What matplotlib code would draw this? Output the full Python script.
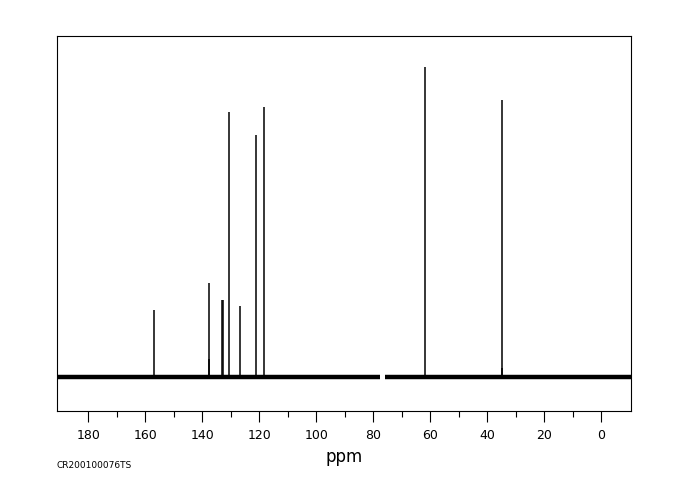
import matplotlib
matplotlib.use("Agg")
import matplotlib.pyplot as plt
from matplotlib.ticker import MultipleLocator

# peak positions (ppm) and heights (arbitrary units)
peak_ppm = [156.9, 137.8, 137.6, 133.0, 132.6, 130.5, 126.6, 121.0, 118.5, 61.8, 34.9, 34.7]
peak_height = [67, 94, 18, 77, 77, 265, 71, 242, 270, 310, 277, 9]

# baseline pieces (solvent region cut out)
baseline_left = [191.0, 77.7]
baseline_right = [75.9, -10.5]

major_ticks = [180, 160, 140, 120, 100, 80, 60, 40, 20, 0]
minor_ticks = [170, 150, 130, 110, 90, 70, 50, 30, 10]

fig = plt.figure(figsize=(6.8, 5.0), dpi=100)
ax = fig.add_axes([57 / 680, 89 / 500, 574 / 680, 375 / 500])

ax.vlines(peak_ppm, 0, peak_height, colors="black", linewidth=1.1)
# noisy baseline drawn as a thick band
ax.plot(baseline_left, [0, 0], color="black", linewidth=3.2, solid_capstyle="butt")
ax.plot(baseline_right, [0, 0], color="black", linewidth=3.2, solid_capstyle="butt")

ax.set_xlim(191.0, -10.5)
ax.set_ylim(-34, 341)

ax.set_xticks(major_ticks)
ax.set_xticks(minor_ticks, minor=True)
ax.tick_params(axis="x", which="major", direction="out", length=8, width=0.8,
               pad=5, labelsize=9)
ax.tick_params(axis="x", which="minor", direction="out", length=4, width=0.8)
ax.set_yticks([])
for s in ax.spines.values():
    s.set_linewidth(0.8)

ax.set_xlabel("ppm", fontsize=12, labelpad=4)
fig.text(57 / 680, 30 / 500, "CR200100076TS", fontsize=6.5, ha="left", va="bottom")

fig.savefig("out.png", dpi=100)
